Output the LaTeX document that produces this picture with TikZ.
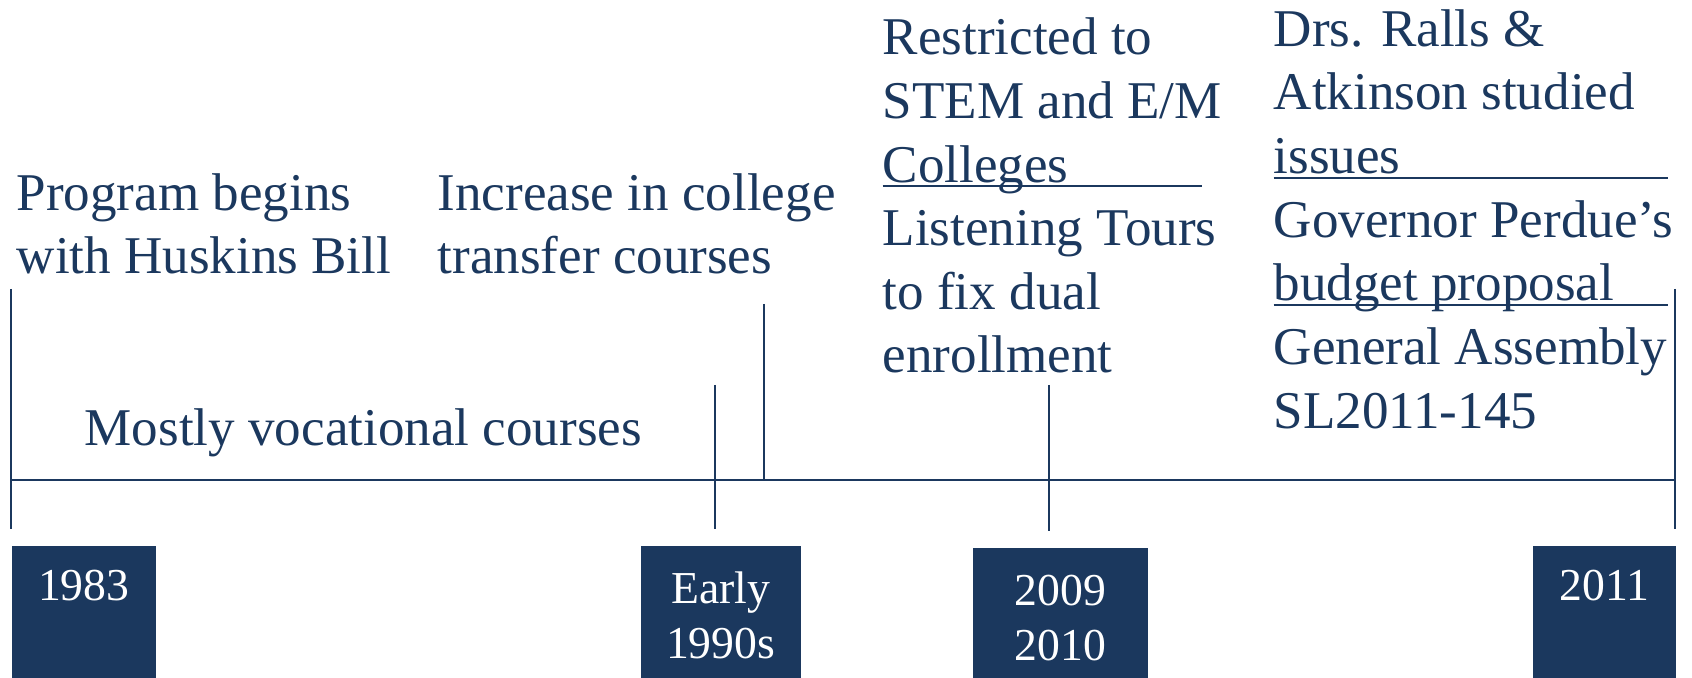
\documentclass[tikz,border=0pt]{standalone}
\usepackage{fontspec}
\setmainfont{Liberation Serif}
\usepackage{xcolor}
\usetikzlibrary{positioning}
\usetikzlibrary{calc}
\definecolor{navy}{RGB}{27,56,94}
\newcommand{\ulfill}[2]{\rlap{\rule[-1.5pt]{#2}{0.6pt}}#1}
\tikzset{%
  event/.style = {inner sep=0pt, align=left, text=navy, font=\fontsize{15.1}{18.1}\selectfont, anchor=base west},
  yearbox/.style = {rectangle, fill=navy, inner sep=0pt, minimum height=13.3mm, anchor=north west},
  yeartext/.style = {inner sep=0pt, text=white, align=center, font=\fontsize{13}{15.6}\selectfont, anchor=base},
  tick/.style = {draw=navy, line width=0.6pt}
}

\begin{document}
\begin{tikzpicture}[x=0.1mm, y=-0.1mm]
  \useasboundingbox (0,0) rectangle (1692,678);

  % Specification of nodes (position, etc.)
  % (base of a multi-line node = its last line)
  \node (huskins) [event] at (16,274) {Program begins\\with Huskins Bill};
  \node (transfer) [event] at (437,274) {Increase in college\\transfer courses};
  \node (vocational) [event] at (84,446) {Mostly vocational courses};
  \node (stem) [event] at (882,373) {Restricted to\\STEM and E/M\\\ulfill{Colleges}{31.9mm}\\Listening Tours\\to fix dual\\enrollment};
  \node (perdue) [event] at (1273,428) {Drs. Ralls \&\\Atkinson studied\\\ulfill{issues}{39.4mm}\\Governor Perdue’s\\\ulfill{budget proposal}{39.4mm}\\General Assembly\\SL2011-145};

  \node (y1983) [yearbox, minimum width=14.4mm] at (11,545) {};
  \node (y1990) [yearbox, minimum width=16mm] at (640,545) {};
  \node (y2009) [yearbox, minimum width=17.5mm, minimum height=13.1mm] at (972,547) {};
  \node (y2011) [yearbox, minimum width=14.3mm] at (1532,545) {};

  \node (t1983) [yeartext] at ($(y1983.north)+(0,56)$) {1983};
  \node (t1990) [yeartext] at ($(y1990.north)+(0,113)$) {Early\\1990s};
  \node (t2009) [yeartext] at ($(y2009.north)+(0,113)$) {2009\\2010};
  \node (t2011) [yeartext] at ($(y2011.north)+(0,56)$) {2011};

  % time line and markers
  \draw[tick] (11,480) -- (1675,480);
  \draw[tick] (11,289) -- (11,529);
  \draw[tick] (715,385) -- (715,529);
  \draw[tick] (764,304) -- (764,480);
  \draw[tick] (1049,385) -- (1049,531);
  \draw[tick] (1675,289) -- (1675,529);
\end{tikzpicture}
\end{document}
